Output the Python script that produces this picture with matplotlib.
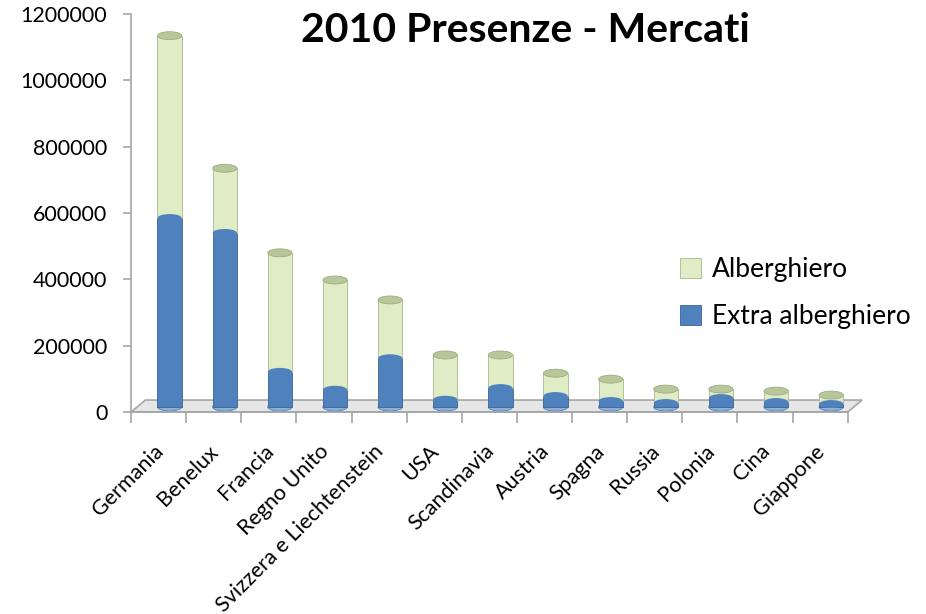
import numpy as np
import matplotlib.pyplot as plt
from matplotlib.patches import Ellipse, Polygon

plt.rcParams['font.family'] = ['Lato', 'DejaVu Sans']

mercati = ['Germania', 'Benelux', 'Francia', 'Regno Unito', 'Svizzera e Liechtenstein',
           'USA', 'Scandinavia', 'Austria', 'Spagna', 'Russia', 'Polonia', 'Cina', 'Giappone']
extra = np.array([570000, 525000, 106000, 52000, 147000, 22000, 57000, 33000, 18000, 12000, 27000, 15000, 9000])
totale = np.array([1120000, 720000, 465000, 383000, 323000, 157000, 157000, 102000, 84000, 54000, 54000, 48000, 36000])
alberghiero = totale - extra

blue = '#4F81BD'
green = '#E0ECC6'
green_top = '#B7C79B'
blue_edge = '#3A6496'

fig = plt.figure(figsize=(9.26, 6.14), dpi=100)
ax = fig.add_axes([0.1415, 0.329, 0.774, 0.648])

x = np.arange(len(mercati)) + 0.2
w = 0.44
base = 15000  # floor thickness in the 3d look

ax.set_xlim(-0.5, 12.5)
ax.set_ylim(0, 1200000)

# floor
floor = Polygon([[0, 0], [1, 0], [1.02, 0.03], [0.02, 0.03]], closed=True,
                transform=ax.transAxes, facecolor='#E6E6E6', edgecolor='#A6A6A6',
                lw=1.2, clip_on=False, zorder=1)
ax.add_patch(floor)

ax.bar(x, extra, w, bottom=base, color=blue, edgecolor=blue_edge, lw=0.6, zorder=3,
       label='Extra alberghiero')
ax.bar(x, alberghiero, w, bottom=extra + base, color=green, edgecolor='#A8B890', lw=0.6, zorder=3,
       label='Alberghiero')

cap = 24000
for xi, e, t in zip(x, extra, totale):
    ax.add_patch(Ellipse((xi, t + base), w, cap, facecolor=green_top, edgecolor='#9DAE80', lw=0.6, zorder=5))
    ax.add_patch(Ellipse((xi, e + base), w, cap, facecolor=blue, edgecolor=blue, lw=0, zorder=4))
    ax.add_patch(Ellipse((xi, base), w, cap, facecolor='#8FB0DA', edgecolor=blue, lw=0.6, zorder=2))

ax.set_yticks(np.arange(0, 1200001, 200000))
ax.set_yticklabels([str(v) for v in range(0, 1200001, 200000)], fontsize=15.5)
ax.set_xticks(np.arange(len(mercati)) - 0.1)
ax.set_xticklabels(mercati, rotation=45, ha='right', rotation_mode='anchor', fontsize=15.5)
ax.set_xticks(np.arange(-0.5, 13, 1), minor=True)
ax.tick_params(axis='x', which='major', length=0, pad=21)
ax.tick_params(axis='x', which='minor', length=8, color='#A6A6A6', width=1.2)
ax.tick_params(axis='y', length=6, color='#A6A6A6', width=1.2, pad=11)

for s in ['top', 'right']:
    ax.spines[s].set_visible(False)
for s in ['left', 'bottom']:
    ax.spines[s].set_color('#A6A6A6')
    ax.spines[s].set_linewidth(1.2)

fig.text(0.567, 0.951, '2010 Presenze - Mercati', fontsize=29.5, fontweight='bold', ha='center', va='center')

h, l = ax.get_legend_handles_labels()
fig.legend(h[::-1], l[::-1], loc='upper left', bbox_to_anchor=(0.72, 0.603), frameon=False,
           fontsize=19, handlelength=0.8, handleheight=0.8, handletextpad=0.4, labelspacing=0.85,
           borderpad=0)

fig.savefig('out.png', dpi=100)
